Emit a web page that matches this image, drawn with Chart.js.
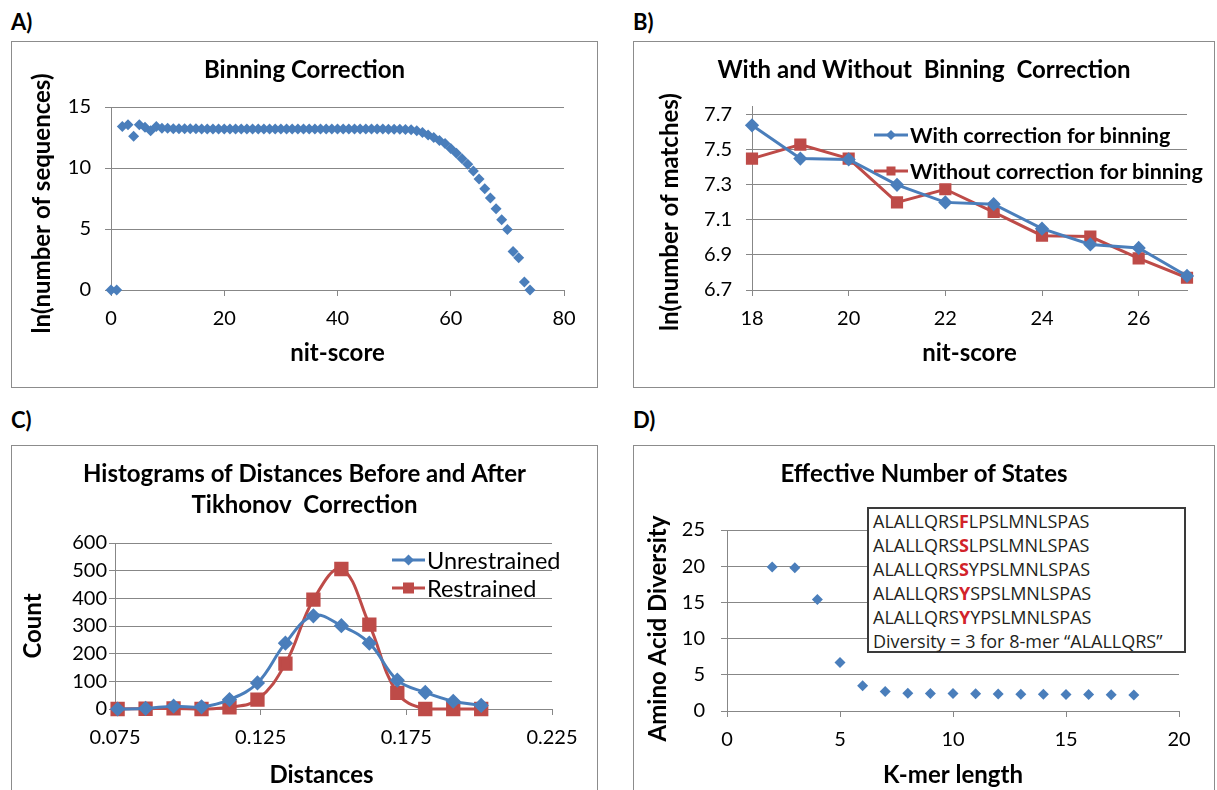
<!DOCTYPE html>
<html>
<head>
<meta charset="utf-8">
<script src="https://cdn.jsdelivr.net/npm/chart.js@4.4.1/dist/chart.umd.min.js"></script>
<style>
  html, body { margin: 0; padding: 0; background: #fff; }
  body { width: 1217px; height: 790px; position: relative; overflow: hidden; font-family: Lato, sans-serif; }
  .box { position: absolute; border: 1px solid #8c8c8c; box-sizing: border-box; pointer-events: none; }
  canvas { position: absolute; }
  .lbl { position: absolute; font: bold 22px/22px Lato, sans-serif; color: #000; }
  .leg { position: absolute; display: flex; align-items: center; white-space: nowrap; color: #000; }
  .leg svg { display: block; margin-right: 2px; }
  #note { position: absolute; left: 867px; top: 507px; width: 319px; height: 146px; box-sizing: border-box;
          border: 2px solid #3a3a3a; background: #fff; padding: 0 0 0 4px;
          font: 18px/24px "Open Sans", sans-serif; color: #231f20; white-space: nowrap; }
  #note b { color: #d2232a; }
</style>
</head>
<body>

<div class="lbl" style="left:11px;top:11px">A)</div>
<div class="lbl" style="left:633px;top:11px">B)</div>
<div class="lbl" style="left:11px;top:409px">C)</div>
<div class="lbl" style="left:633px;top:409px">D)</div>

<canvas id="chartA" width="587" height="347" style="left:11px;top:41px"></canvas>
<canvas id="chartB" width="582" height="347" style="left:633px;top:41px"></canvas>
<canvas id="chartC" width="587" height="360" style="left:11px;top:445px"></canvas>
<canvas id="chartD" width="582" height="360" style="left:633px;top:445px"></canvas>

<div class="box" style="left:11px;top:41px;width:587px;height:347px"></div>
<div class="box" style="left:633px;top:41px;width:582px;height:347px"></div>
<div class="box" style="left:11px;top:445px;width:587px;height:360px"></div>
<div class="box" style="left:633px;top:445px;width:582px;height:360px"></div>

<!-- legend B -->
<div class="leg" style="left:874px;top:121px;height:28px;font:bold 21.5px Lato, sans-serif">
  <svg width="34" height="14"><line x1="0" y1="7" x2="34" y2="7" stroke="#4a7ebb" stroke-width="3"/><polygon points="17,2 22,7 17,12 12,7" fill="#4a7ebb"/></svg>With correction for binning
</div>
<div class="leg" style="left:874px;top:157px;height:28px;font:bold 21.5px Lato, sans-serif">
  <svg width="34" height="14"><line x1="0" y1="7" x2="34" y2="7" stroke="#be4b48" stroke-width="3"/><rect x="12.5" y="2.5" width="9" height="9" fill="#be4b48"/></svg>Without correction for binning
</div>

<!-- legend C -->
<div class="leg" style="left:392px;top:546px;height:28px;font:23.5px Lato, sans-serif">
  <svg width="33" height="16"><line x1="0" y1="8" x2="33" y2="8" stroke="#4a7ebb" stroke-width="3"/><polygon points="16.5,2.5 22,8 16.5,13.5 11,8" fill="#4a7ebb"/></svg>Unrestrained
</div>
<div class="leg" style="left:392px;top:574px;height:28px;font:23.5px Lato, sans-serif">
  <svg width="33" height="16"><line x1="0" y1="8" x2="33" y2="8" stroke="#be4b48" stroke-width="3"/><rect x="11" y="2.5" width="11" height="11" fill="#be4b48"/></svg>Restrained
</div>

<!-- annotation D -->
<div id="note">
  <div>ALALLQRS<b>F</b>LPSLMNLSPAS</div>
  <div>ALALLQRS<b>S</b>LPSLMNLSPAS</div>
  <div>ALALLQRS<b>S</b>YPSLMNLSPAS</div>
  <div>ALALLQRS<b>Y</b>SPSLMNLSPAS</div>
  <div>ALALLQRS<b>Y</b>YPSLMNLSPAS</div>
  <div>Diversity = 3 for 8-mer “ALALLQRS”</div>
</div>

<script>
// ---- A) Binning Correction ----
const nitScoreA = [0, 1, 2, 3, 4, 5, 6, 7, 8, 9, 10, 11, 12, 13, 14, 15, 16, 17, 18, 19,
  20, 21, 22, 23, 24, 25, 26, 27, 28, 29, 30, 31, 32, 33, 34, 35, 36, 37, 38, 39,
  40, 41, 42, 43, 44, 45, 46, 47, 48, 49, 50, 51, 52, 53, 54, 55, 56, 57, 58, 59,
  60, 61, 62, 63, 64, 65, 66, 67, 68, 69, 70, 71, 72, 73, 74];
const lnSeqA = [0, 0, 13.4, 13.55, 12.6, 13.55, 13.35, 13.05, 13.4, 13.25,
  13.25, 13.22, 13.22, 13.21, 13.21, 13.21, 13.2, 13.2, 13.2, 13.2,
  13.2, 13.2, 13.2, 13.2, 13.2, 13.2, 13.2, 13.2, 13.2, 13.2,
  13.2, 13.2, 13.2, 13.2, 13.2, 13.2, 13.2, 13.2, 13.2, 13.2,
  13.2, 13.2, 13.2, 13.2, 13.2, 13.2, 13.2, 13.19, 13.19, 13.18,
  13.18, 13.17, 13.16, 13.14, 13.05, 12.9, 12.7, 12.5, 12.25, 12.0,
  11.6, 11.2, 10.75, 10.3, 9.75, 9.1, 8.3, 7.55, 6.65, 5.75,
  4.95, 3.15, 2.65, 0.65, 0];
const xTicksA = [0, 20, 40, 60, 80];
const yTicksA = [0, 5, 10, 15];

// ---- B) With and Without Binning Correction ----
const nitScoreB = [18, 19, 20, 21, 22, 23, 24, 25, 26, 27];
const withCorr = [7.64, 7.45, 7.445, 7.30, 7.20, 7.19, 7.05, 6.96, 6.94, 6.78];
const withoutCorr = [7.45, 7.53, 7.45, 7.20, 7.275, 7.145, 7.01, 7.005, 6.88, 6.77];
const xTicksB = [18, 20, 22, 24, 26];
const yTicksB = [6.7, 6.9, 7.1, 7.3, 7.5, 7.7];

// ---- C) Histograms of distances ----
const distC = [0.0759, 0.0855, 0.0951, 0.1047, 0.1143, 0.1239, 0.1335,
  0.1431, 0.1527, 0.1623, 0.1719, 0.1815, 0.1911, 0.2007];
const unrestrained = [0, 2, 10, 8, 34, 94, 238, 337, 301, 238, 104, 60, 28, 13];
const restrained = [0, 1, 2, 0, 6, 34, 164, 395, 506, 305, 58, 0, 0, 0];
const xTicksC = [0.075, 0.125, 0.175, 0.225];
const yTicksC = [0, 100, 200, 300, 400, 500, 600];

// ---- D) Effective number of states ----
const kmerLen = [2, 3, 4, 5, 6, 7, 8, 9, 10, 11, 12, 13, 14, 15, 16, 17, 18];
const diversity = [19.9, 19.8, 15.4, 6.7, 3.5, 2.7, 2.45, 2.43, 2.4, 2.37, 2.35, 2.33, 2.31, 2.29, 2.27, 2.25, 2.22];
const xTicksD = [0, 5, 10, 15, 20];
const yTicksD = [0, 5, 10, 15, 20, 25];

const BLUE = '#4a7ebb';
const RED = '#be4b48';
const GRID = '#878787';

Chart.defaults.font.family = 'Lato, sans-serif';
Chart.defaults.color = '#000';

const pts = (xs, ys) => xs.map((x, i) => ({ x: x, y: ys[i] }));

// nudge an axis title a few px (Excel does not centre them exactly)
function shiftTitle(s, dx, dy) {
    if (s._shifted || (!dx && !dy)) return;
    const orig = s.drawTitle;
    s.drawTitle = function () {
        this.ctx.save();
        this.ctx.translate(dx, dy);
        orig.call(this);
        this.ctx.restore();
    };
    s._shifted = true;
}

// builds one panel; geometry numbers place the plot area like the original
function panel(id, o) {
    const tickFont = { size: 20 };
    const boldFont = { size: 24, weight: 'bold' };
    new Chart(document.getElementById(id), {
        type: 'scatter',
        data: { datasets: o.datasets },
        options: {
            responsive: false,
            animation: false,
            layout: { padding: 0 },
            plugins: {
                legend: { display: false },
                tooltip: { enabled: false },
                title: {
                    display: true,
                    text: o.title,
                    color: '#000',
                    font: { size: 24, weight: 'bold', lineHeight: o.titleLH || 1.2 },
                    padding: { top: o.titlePad[0], bottom: o.titlePad[1] }
                }
            },
            scales: {
                x: {
                    type: 'linear',
                    position: 'bottom',
                    min: o.xMin, max: o.xMax,
                    afterBuildTicks: s => { s.ticks = o.xTicks.map(v => ({ value: v })); },
                    afterFit: s => { s.height = o.xH; shiftTitle(s, o.xTitleDx || 0, 0); },
                    grid: { drawOnChartArea: false, drawTicks: true, tickLength: 6, color: GRID },
                    border: { color: GRID },
                    ticks: { font: tickFont, padding: 11, maxRotation: 0, callback: o.xFmt || (v => v) },
                    title: { display: true, text: o.xTitle, font: boldFont, padding: { top: 0, bottom: o.xTitlePad } }
                },
                y: {
                    type: 'linear',
                    position: 'left',
                    min: o.yMin, max: o.yMax,
                    afterBuildTicks: s => { s.ticks = o.yTicks.map(v => ({ value: v })); },
                    afterFit: s => { s.width = o.yW; shiftTitle(s, 0, o.yTitleDy || 0); },
                    grid: { drawTicks: true, tickLength: 6, color: GRID },
                    border: { color: GRID },
                    ticks: { font: tickFont, padding: o.yTickPad, callback: o.yFmt || (v => v) },
                    title: { display: true, text: o.yTitle, font: boldFont, padding: { top: o.yTitlePad, bottom: 0 } }
                },
                gap: {
                    type: 'linear',
                    position: 'right',
                    display: true,
                    grid: { display: false },
                    border: { display: false },
                    ticks: { display: false },
                    afterFit: s => { s.width = o.rightGap; }
                }
            }
        }
    });
}

panel('chartA', {
    title: 'Binning Correction', titlePad: [14.6, 22.6],
    datasets: [{
        data: pts(nitScoreA, lnSeqA), pointStyle: 'rectRot', pointRadius: 5.5,
        backgroundColor: BLUE, borderColor: BLUE, borderWidth: 0, clip: false
    }],
    xMin: 0, xMax: 80, xTicks: xTicksA, xH: 98, xTitle: 'nit-score', xTitlePad: 20.6,
    yMin: 0, yMax: 15, yTicks: yTicksA, yW: 100, yTickPad: 14,
    yTitle: 'ln(number of sequences)', yTitlePad: 16.6, yTitleDy: 5, rightGap: 34
});

panel('chartB', {
    title: 'With and Without  Binning  Correction', titlePad: [14.6, 21.6],
    datasets: [
        {
            data: pts(nitScoreB, withCorr), showLine: true, borderColor: BLUE, borderWidth: 3,
            pointStyle: 'rectRot', pointRadius: 5, pointBackgroundColor: BLUE, pointBorderColor: BLUE, clip: false
        },
        {
            data: pts(nitScoreB, withoutCorr), showLine: true, borderColor: RED, borderWidth: 3,
            pointStyle: 'rect', pointRadius: 6.5, pointBackgroundColor: RED, pointBorderColor: RED, clip: false
        }
    ],
    xMin: 18, xMax: 27, xTicks: xTicksB, xH: 98, xTitle: 'nit-score', xTitlePad: 20.6,
    yMin: 6.7, yMax: 7.75, yTicks: yTicksB, yW: 119, yTickPad: 14, yFmt: v => v.toFixed(1),
    yTitle: 'ln(number of matches)', yTitlePad: 22.6, yTitleDy: 14, rightGap: 28
});

panel('chartC', {
    title: ['Histograms of Distances Before and After', 'Tikhonov  Correction'],
    titleLH: 31 / 24, titlePad: [13.5, 22.5],
    datasets: [
        {
            data: pts(distC, unrestrained), showLine: true, tension: 0.4, borderColor: BLUE, borderWidth: 3,
            pointStyle: 'rectRot', pointRadius: 5.5, pointBackgroundColor: BLUE, pointBorderColor: BLUE, clip: false
        },
        {
            data: pts(distC, restrained), showLine: true, tension: 0.4, borderColor: RED, borderWidth: 3,
            pointStyle: 'rect', pointRadius: 8, pointBackgroundColor: RED, pointBorderColor: RED, clip: false
        }
    ],
    xMin: 0.075, xMax: 0.225, xTicks: xTicksC, xH: 96, xTitle: 'Distances', xTitlePad: 15.6, xTitleDx: -12,
    xFmt: v => v.toFixed(3),
    yMin: 0, yMax: 600, yTicks: yTicksC, yW: 104, yTickPad: 2,
    yTitle: 'Count', yTitlePad: 7.6, rightGap: 46
});

panel('chartD', {
    title: 'Effective Number of States', titlePad: [14.6, 41.6],
    datasets: [{
        data: pts(kmerLen, diversity), pointStyle: 'rectRot', pointRadius: 5.5,
        backgroundColor: BLUE, borderColor: BLUE, borderWidth: 0, clip: false
    }],
    xMin: 0, xMax: 20, xTicks: xTicksD, xH: 94, xTitle: 'K-mer length', xTitlePad: 15.6,
    yMin: 0, yMax: 25, yTicks: yTicksD, yW: 94, yTickPad: 16,
    yTitle: 'Amino Acid Diversity', yTitlePad: 10.6, yTitleDy: 8, rightGap: 36
});
</script>
</body>
</html>
